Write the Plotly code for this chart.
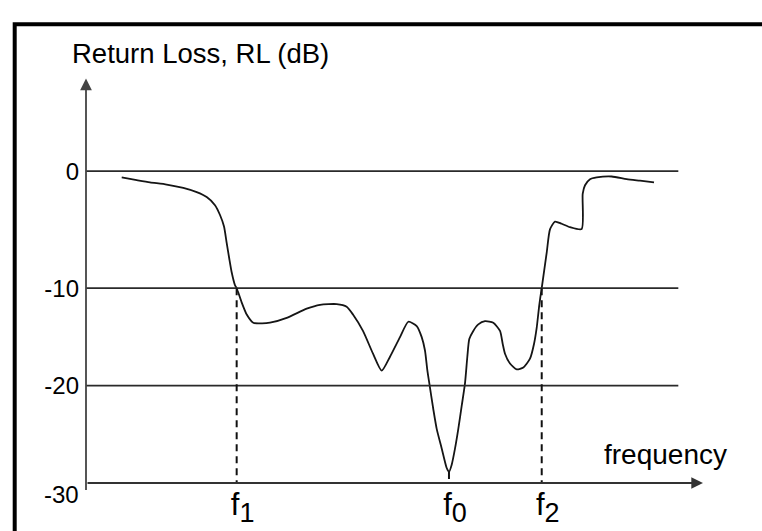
import plotly.graph_objects as go

# ---------------- data ----------------
# frequency in arbitrary units (axis origin = 0, arrow tip = 100)
freq = [5.79, 8.22, 10.37, 13.08, 15.77, 17.94, 19.56, 20.91, 21.72, 22.37,
        22.80, 23.23, 23.61, 24.15, 24.42, 25.20, 26.05, 27.11, 28.53, 29.82,
        32.53, 35.77, 37.93, 40.63, 42.25, 43.27, 44.89, 46.52, 47.93, 49.27,
        50.89, 52.24, 53.60, 54.41, 54.94, 55.32, 55.64, 56.29, 56.84, 57.65,
        58.46, 58.83, 59.27, 59.81, 60.34, 60.89, 61.43, 61.80, 62.12, 62.77,
        63.58, 64.67, 66.01, 67.10, 67.54, 67.91, 68.72, 69.81, 70.88, 71.96,
        72.61, 73.05, 73.47, 73.86, 74.67, 75.20, 76.01, 77.10, 78.44, 80.34,
        80.50, 80.88, 81.69, 82.77, 85.20, 87.63, 89.79, 92.06]
return_loss_db = [-0.54, -0.77, -0.96, -1.15, -1.44, -1.80, -2.22, -2.91, -3.75, -4.73,
                  -6.13, -7.51, -8.64, -9.75, -10.0, -11.41, -12.71, -13.55, -13.62, -13.55,
                  -13.05, -12.11, -11.71, -11.64, -11.91, -12.71, -14.39, -16.73, -18.47, -17.04,
                  -15.03, -13.45, -13.89, -15.03, -16.40, -18.41, -19.75, -22.43, -24.44, -26.45,
                  -28.46, -28.86, -28.12, -26.45, -24.44, -22.09, -19.75, -17.07, -15.23, -14.39,
                  -13.72, -13.39, -13.55, -14.39, -15.73, -16.73, -17.74, -18.34, -18.14, -17.24,
                  -15.73, -14.05, -11.71, -10.0, -6.96, -4.98, -4.31, -4.50, -4.79, -4.95,
                  -1.94, -1.21, -0.69, -0.54, -0.46, -0.69, -0.82, -0.96]

marker_freqs = [24.42, 58.83, 73.86]          # f1, f0, f2
marker_subs = ["1", "0", "2"]
marker_tops = [-10, -28.86, -10]              # dashed drop lines start here
grid_levels = [0, -10, -20]
grid_end = 96
y_tick_vals_low = [-10, -20]
y_tick_text_low = ["-10", "-20"]
y_tick_vals_high = [0]
y_tick_text_high = ["0"]
y_min_label = "-30"
title_text = "Return Loss, RL (dB)"
x_title_text = "frequency"

# ---------------- geometry ----------------
W, H = 762, 531

def pv(p):  # pixel row -> paper y
    return 1 - p / H

def ph(p):  # pixel column -> paper x
    return p / W

X_L, X_R = 86, 703
FONT = "Liberation Sans, Arial, sans-serif"

fig = go.Figure()
for xa, ya in (("x", "y"), ("x2", "y2")):
    fig.add_trace(go.Scatter(x=freq, y=return_loss_db, mode="lines",
                             line=dict(color="#151515", width=1.8, shape="spline", smoothing=0.6),
                             xaxis=xa, yaxis=ya, showlegend=False, hoverinfo="skip"))

shapes = []
for lvl in grid_levels:
    ya = "y2" if lvl > -10 else "y"
    xa = "x2" if ya == "y2" else "x"
    shapes.append(dict(type="line", xref=xa, yref=ya, x0=0, x1=grid_end, y0=lvl, y1=lvl,
                       line=dict(color="#2a2a2a", width=1.6)))
for fx, top in zip(marker_freqs, marker_tops):
    shapes.append(dict(type="line", xref="x", yref="y", x0=fx, x1=fx, y0=top, y1=-30,
                       line=dict(color="#111", width=2, dash="7px,5px")))
# outer frame
shapes.append(dict(type="rect", xref="paper", yref="paper", x0=ph(14.7), x1=1.2,
                   y0=-0.2, y1=pv(13.5), line=dict(color="#000", width=4)))

annotations = [
    # y axis arrow
    dict(xref="x2", yref="y2", x=0, y=7.908, ax=0, ay=413, axref="pixel", ayref="pixel",
         text="", showarrow=True, arrowhead=2, arrowsize=1.3, arrowwidth=1.8, arrowcolor="#444",
         standoff=0),
    # x axis arrow
    dict(xref="x", yref="y", x=100, y=-30, ax=-(X_R - X_L), ay=0, axref="pixel", ayref="pixel",
         text="", showarrow=True, arrowhead=2, arrowsize=1.3, arrowwidth=1.8, arrowcolor="#333",
         standoff=0),
    dict(xref="paper", yref="y", x=ph(81), y=-30, yshift=-11, text=y_min_label,
         showarrow=False, xanchor="right", yanchor="middle",
         font=dict(family=FONT, size=24, color="#000")),
    dict(xref="x", yref="y", x=83.6, y=-27.1, text=x_title_text, showarrow=False,
         xanchor="left", yanchor="middle", font=dict(family=FONT, size=28, color="#000")),
]

marker_labels = ["f<sub><span style='font-size:27px'>%s</span></sub>" % s for s in marker_subs]

fig.update_layout(
    width=W, height=H, autosize=False,
    margin=dict(l=0, r=0, t=0, b=0),
    paper_bgcolor="white", plot_bgcolor="white",
    title=dict(text=title_text, x=ph(72), xanchor="left", xref="paper",
               y=pv(43), yanchor="middle", yref="paper",
               font=dict(family=FONT, size=27.5, color="#000")),
    xaxis=dict(domain=[ph(X_L), ph(X_R)], range=[0, 100], showgrid=False, zeroline=False,
               showline=False, tickvals=marker_freqs, ticktext=marker_labels, ticks="",
               tickfont=dict(family=FONT, size=31, color="#000"), ticklabelshift=6,
               ticklabelstandoff=0, anchor="y"),
    xaxis2=dict(domain=[ph(X_L), ph(X_R)], range=[0, 100], matches="x", visible=False,
                anchor="y2"),
    yaxis=dict(domain=[pv(482), pv(280)], range=[-30, -10 + 3 / 9.95], showgrid=False,
               zeroline=False, showline=False, tickvals=y_tick_vals_low, ticktext=y_tick_text_low,
               ticks="", tickfont=dict(family=FONT, size=24, color="#000"),
               ticklabelstandoff=6, anchor="x"),
    yaxis2=dict(domain=[pv(286), pv(69)], range=[-10 - 3 / 11.95, 7.908], showgrid=False,
                zeroline=False, showline=False, tickvals=y_tick_vals_high,
                ticktext=y_tick_text_high, ticks="",
                tickfont=dict(family=FONT, size=24, color="#000"),
                ticklabelstandoff=6, anchor="x2"),
    shapes=shapes, annotations=annotations,
)

# drop the page's default 8px body margin so the 762x531 figure fills the window exactly
fig.write_html("out.html", config={"displayModeBar": False},
               post_script="document.body.style.margin='0';document.body.style.overflow='hidden';")
